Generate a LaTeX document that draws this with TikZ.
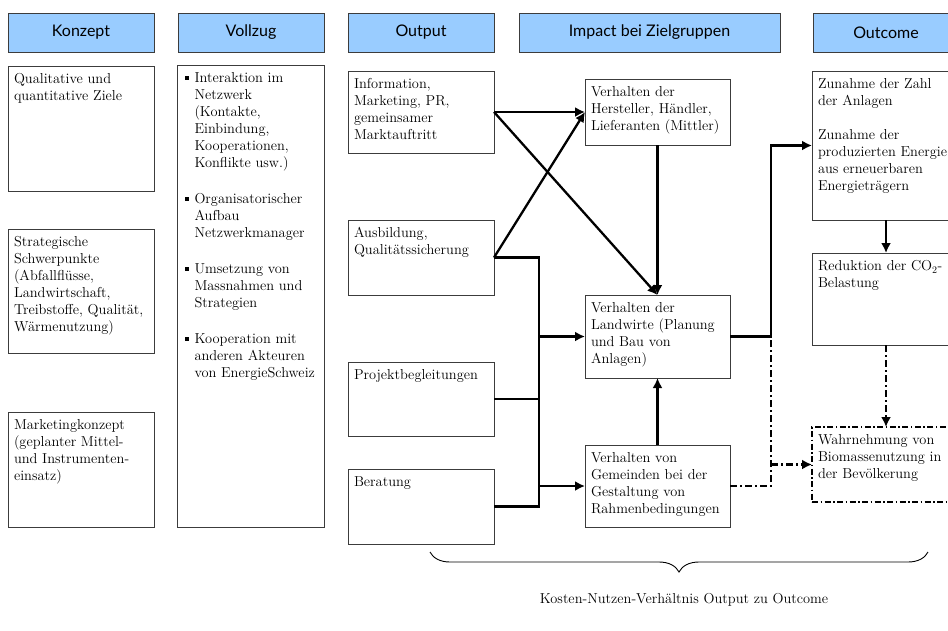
\documentclass[tikz,border=0pt]{standalone}
\usepackage{fontspec}
\newfontfamily\headfont{Lato}
\usetikzlibrary{positioning,calc,arrows.meta,decorations.pathreplacing}
\definecolor{headblue}{RGB}{153,204,255}
\definecolor{rim}{RGB}{60,60,60}
\newcommand{\boxtxt}[3]{\parbox[t][#2][t]{#1}{\strut #3}}
\newcommand{\bitem}{\leavevmode\llap{\rule[3pt]{4pt}{4pt}\hspace{6pt}}}
\tikzstyle{head} = [draw=rim, line width=0.9pt, fill=headblue, minimum width=146pt, minimum height=39pt, inner sep=0pt, outer sep=0pt, font=\headfont\fontsize{16}{19}\selectfont]
\tikzstyle{box} = [draw=rim, line width=0.9pt, inner xsep=6pt, inner ysep=6pt, outer sep=0pt, font=\fontsize{14.4}{17}\selectfont]
\tikzstyle{dbox} = [box, draw=black, line width=1.4pt, dash pattern=on 6pt off 2.5pt on 1.5pt off 2.5pt]
\tikzstyle{flow} = [draw, line width=2.3pt, -{Latex[length=10pt,width=10pt]}]
\tikzstyle{bus} = [draw, line width=2.3pt]
\tikzstyle{dline} = [draw, line width=2.3pt, dash pattern=on 7pt off 3pt on 2pt off 3pt]
\tikzstyle{dflow} = [dline, -{Latex[length=10pt,width=10pt]}]
\tikzstyle{curly} = [draw, line width=0.9pt, decorate, decoration={brace, mirror, amplitude=20pt}]

\begin{document}
\begin{tikzpicture}
\useasboundingbox (0,0) rectangle (948pt,-630pt);
\clip (0,0) rectangle (948pt,-630pt);

% headers =============================
\node[head, anchor=north west] (hkon) at (8pt,-13pt) {Konzept};
\node[head, right=24pt of hkon] (hvoll) {Vollzug};
\node[head, right=24pt of hvoll] (hout) {Output};
\node[head, minimum width=261pt, right=25pt of hout] (himp) {Impact bei Zielgruppen};
\node[head, right=33pt of himp] (hoc) {Outcome};

% Konzept
\node[box, below=14pt of hkon] (ziele) {\boxtxt{134pt}{113pt}{Qualitative und\\quantitative Ziele}};
\node[box, below=38pt of ziele] (schwer) {\boxtxt{134pt}{112pt}{Strategische\\Schwerpunkte\\(Abfallflüsse,\\Landwirtschaft,\\Treibstoffe, Qualität,\\Wärmenutzung)}};
\node[box, below=59pt of schwer] (mkonz) {\boxtxt{134pt}{103pt}{Marketingkonzept\\(geplanter Mittel-\\und Instrumenten-\\einsatz)}};

% Vollzug
\node[box, inner xsep=7pt, below=13pt of hvoll] (vollz) {\boxtxt{133pt}{450pt}{\leftskip=10pt
\bitem Interaktion im\\Netzwerk\\(Kontakte,\\Einbindung,\\Kooperationen,\\Konflikte usw.)\par\vspace{19pt}
\bitem Organisatorischer\\Aufbau\\Netzwerkmanager\par\vspace{19pt}
\bitem Umsetzung von\\Massnahmen und\\Strategien\par\vspace{19pt}
\bitem Kooperation mit\\anderen Akteuren\\von EnergieSchweiz}};

% Output
\node[box, below=19pt of hout] (info) {\boxtxt{134pt}{70pt}{Information,\\Marketing, PR,\\gemeinsamer\\Marktauftritt}};
\node[box, below=67pt of info] (ausb) {\boxtxt{134pt}{63pt}{Ausbildung,\\Qualitätssicherung}};
\node[box, below=67pt of ausb] (proj) {\boxtxt{134pt}{62pt}{Projektbegleitungen}};
\node[box, below=33pt of proj] (berat) {\boxtxt{134pt}{63pt}{Beratung}};

% Impact bei Zielgruppen
\node[box, right=91pt of info] (herst) {\boxtxt{133pt}{54pt}{Verhalten der\\Hersteller, Händler,\\Lieferanten (Mittler)}};
\node[box, below=150pt of herst] (landw) {\boxtxt{133pt}{71pt}{Verhalten der\\Landwirte (Planung\\und Bau von\\Anlagen)}};
\node[box, below=67pt of landw] (gemein) {\boxtxt{133pt}{70pt}{Verhalten von\\Gemeinden bei der\\Gestaltung von\\Rahmenbedingungen}};

% Outcome
\node[box, below=19pt of hoc] (zun) {\boxtxt{136pt}{137pt}{Zunahme der Zahl\\der Anlagen\\[17pt]Zunahme der\\produzierten Energie\\aus erneuerbaren\\Energieträgern}};
\node[box, below=33pt of zun] (redu) {\boxtxt{136pt}{80pt}{Reduktion der CO\textsubscript{2}-\\Belastung}};
\node[dbox, below=82pt of redu] (wahr) {\boxtxt{136pt}{63pt}{Wahrnehmung von\\Biomassenutzung in\\der Bevölkerung}};

% edges
\path[flow] (info.east) -- (herst.west);
\path[flow] (info.east) -- (landw.north);
\path[flow] (ausb.east) -- (herst.west);
\path[flow] (herst) -- (landw);

\coordinate[right=45pt of ausb.east] (bustop);
\path[bus] (ausb.east) -- (bustop) |- (berat.east);
\path[bus] (proj.east) -- (proj.east -| bustop);
\path[flow] (bustop |- landw.west) -- (landw.west);
\path[flow] (bustop |- gemein.west) -- (gemein.west);
\path[flow] (gemein) -- (landw);

\coordinate[right=41pt of landw.east] (split);
\path[flow] (landw.east) -- (split) |- (zun.west);
\path[dline] (gemein.east) -- (gemein.east -| split) -- (split);
\path[dflow] (split |- wahr.west) -- (wahr.west);
\path[flow] (zun) -- (redu);
\path[dflow] (redu) -- (wahr);

% brace
\coordinate (bl) at (430pt,-552pt);
\coordinate (br) at (928pt,-552pt);
\path[curly] (bl) -- (br);
\node[font=\fontsize{14.4}{17}\selectfont] (ratio) at (684pt,-600pt) {Kosten-Nutzen-Verhältnis Output zu Outcome};

\end{tikzpicture}
\end{document}
